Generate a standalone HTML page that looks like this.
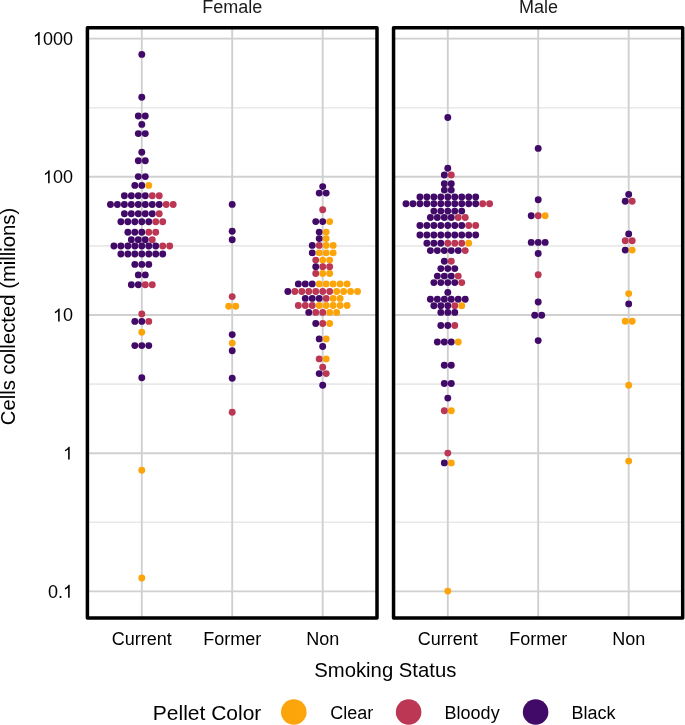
<!DOCTYPE html><html><head><meta charset="utf-8"><style>html,body{margin:0;padding:0;background:#fff;overflow:hidden}svg{display:block;will-change:transform}</style></head><body><svg width="685" height="725" viewBox="0 0 685 725">
<rect width="685" height="725" fill="#fff"/>
<line x1="87.4" x2="377.0" y1="107.70" y2="107.70" stroke="#e9e9e9" stroke-width="1.6"/>
<line x1="87.4" x2="377.0" y1="245.90" y2="245.90" stroke="#e9e9e9" stroke-width="1.6"/>
<line x1="87.4" x2="377.0" y1="384.10" y2="384.10" stroke="#e9e9e9" stroke-width="1.6"/>
<line x1="87.4" x2="377.0" y1="522.30" y2="522.30" stroke="#e9e9e9" stroke-width="1.6"/>
<line x1="87.4" x2="377.0" y1="38.60" y2="38.60" stroke="#d0d0d0" stroke-width="1.9"/>
<line x1="87.4" x2="377.0" y1="176.80" y2="176.80" stroke="#d0d0d0" stroke-width="1.9"/>
<line x1="87.4" x2="377.0" y1="315.00" y2="315.00" stroke="#d0d0d0" stroke-width="1.9"/>
<line x1="87.4" x2="377.0" y1="453.20" y2="453.20" stroke="#d0d0d0" stroke-width="1.9"/>
<line x1="87.4" x2="377.0" y1="591.40" y2="591.40" stroke="#d0d0d0" stroke-width="1.9"/>
<line x1="393.55" x2="682.7" y1="107.70" y2="107.70" stroke="#e9e9e9" stroke-width="1.6"/>
<line x1="393.55" x2="682.7" y1="245.90" y2="245.90" stroke="#e9e9e9" stroke-width="1.6"/>
<line x1="393.55" x2="682.7" y1="384.10" y2="384.10" stroke="#e9e9e9" stroke-width="1.6"/>
<line x1="393.55" x2="682.7" y1="522.30" y2="522.30" stroke="#e9e9e9" stroke-width="1.6"/>
<line x1="393.55" x2="682.7" y1="38.60" y2="38.60" stroke="#d0d0d0" stroke-width="1.9"/>
<line x1="393.55" x2="682.7" y1="176.80" y2="176.80" stroke="#d0d0d0" stroke-width="1.9"/>
<line x1="393.55" x2="682.7" y1="315.00" y2="315.00" stroke="#d0d0d0" stroke-width="1.9"/>
<line x1="393.55" x2="682.7" y1="453.20" y2="453.20" stroke="#d0d0d0" stroke-width="1.9"/>
<line x1="393.55" x2="682.7" y1="591.40" y2="591.40" stroke="#d0d0d0" stroke-width="1.9"/>
<line x1="141.80" x2="141.80" y1="27.85" y2="617.9" stroke="#d0d0d0" stroke-width="1.9"/>
<line x1="232.20" x2="232.20" y1="27.85" y2="617.9" stroke="#d0d0d0" stroke-width="1.9"/>
<line x1="322.70" x2="322.70" y1="27.85" y2="617.9" stroke="#d0d0d0" stroke-width="1.9"/>
<line x1="447.80" x2="447.80" y1="27.85" y2="617.9" stroke="#d0d0d0" stroke-width="1.9"/>
<line x1="538.20" x2="538.20" y1="27.85" y2="617.9" stroke="#d0d0d0" stroke-width="1.9"/>
<line x1="628.70" x2="628.70" y1="27.85" y2="617.9" stroke="#d0d0d0" stroke-width="1.9"/>
<circle cx="141.8" cy="54.4" r="3.45" fill="#420a68"/>
<circle cx="141.8" cy="97.3" r="3.45" fill="#420a68"/>
<circle cx="138.31" cy="116.0" r="3.45" fill="#420a68"/>
<circle cx="145.29" cy="116.0" r="3.45" fill="#420a68"/>
<circle cx="141.8" cy="124.4" r="3.45" fill="#420a68"/>
<circle cx="138.31" cy="133.6" r="3.45" fill="#420a68"/>
<circle cx="145.29" cy="133.6" r="3.45" fill="#420a68"/>
<circle cx="141.8" cy="152.3" r="3.45" fill="#420a68"/>
<circle cx="138.31" cy="160.8" r="3.45" fill="#420a68"/>
<circle cx="145.29" cy="160.8" r="3.45" fill="#420a68"/>
<circle cx="138.31" cy="176.6" r="3.45" fill="#420a68"/>
<circle cx="145.29" cy="176.6" r="3.45" fill="#420a68"/>
<circle cx="134.83" cy="185.4" r="3.45" fill="#420a68"/>
<circle cx="141.8" cy="185.4" r="3.45" fill="#420a68"/>
<circle cx="148.77" cy="185.4" r="3.45" fill="#fca50a"/>
<circle cx="124.38" cy="195.7" r="3.45" fill="#420a68"/>
<circle cx="131.34" cy="195.7" r="3.45" fill="#420a68"/>
<circle cx="138.31" cy="195.7" r="3.45" fill="#420a68"/>
<circle cx="145.29" cy="195.7" r="3.45" fill="#420a68"/>
<circle cx="152.26" cy="195.7" r="3.45" fill="#bc3754"/>
<circle cx="159.23" cy="195.7" r="3.45" fill="#bc3754"/>
<circle cx="110.44" cy="204.5" r="3.45" fill="#420a68"/>
<circle cx="117.41" cy="204.5" r="3.45" fill="#420a68"/>
<circle cx="124.38" cy="204.5" r="3.45" fill="#420a68"/>
<circle cx="131.34" cy="204.5" r="3.45" fill="#420a68"/>
<circle cx="138.31" cy="204.5" r="3.45" fill="#420a68"/>
<circle cx="145.29" cy="204.5" r="3.45" fill="#420a68"/>
<circle cx="152.26" cy="204.5" r="3.45" fill="#420a68"/>
<circle cx="159.23" cy="204.5" r="3.45" fill="#420a68"/>
<circle cx="166.2" cy="204.5" r="3.45" fill="#bc3754"/>
<circle cx="173.17" cy="204.5" r="3.45" fill="#bc3754"/>
<circle cx="124.38" cy="213.8" r="3.45" fill="#420a68"/>
<circle cx="131.34" cy="213.8" r="3.45" fill="#420a68"/>
<circle cx="138.31" cy="213.8" r="3.45" fill="#420a68"/>
<circle cx="145.29" cy="213.8" r="3.45" fill="#420a68"/>
<circle cx="152.26" cy="213.8" r="3.45" fill="#420a68"/>
<circle cx="159.23" cy="213.8" r="3.45" fill="#bc3754"/>
<circle cx="120.89" cy="221.7" r="3.45" fill="#420a68"/>
<circle cx="127.86" cy="221.7" r="3.45" fill="#420a68"/>
<circle cx="134.83" cy="221.7" r="3.45" fill="#420a68"/>
<circle cx="141.8" cy="221.7" r="3.45" fill="#420a68"/>
<circle cx="148.77" cy="221.7" r="3.45" fill="#420a68"/>
<circle cx="155.74" cy="221.7" r="3.45" fill="#bc3754"/>
<circle cx="162.71" cy="221.7" r="3.45" fill="#bc3754"/>
<circle cx="127.86" cy="232.2" r="3.45" fill="#420a68"/>
<circle cx="134.83" cy="232.2" r="3.45" fill="#420a68"/>
<circle cx="141.8" cy="232.2" r="3.45" fill="#420a68"/>
<circle cx="148.77" cy="232.2" r="3.45" fill="#bc3754"/>
<circle cx="155.74" cy="232.2" r="3.45" fill="#bc3754"/>
<circle cx="131.34" cy="239.7" r="3.45" fill="#420a68"/>
<circle cx="138.31" cy="239.7" r="3.45" fill="#420a68"/>
<circle cx="145.29" cy="239.7" r="3.45" fill="#420a68"/>
<circle cx="152.26" cy="239.7" r="3.45" fill="#bc3754"/>
<circle cx="113.92" cy="246.0" r="3.45" fill="#420a68"/>
<circle cx="120.89" cy="246.0" r="3.45" fill="#420a68"/>
<circle cx="127.86" cy="246.0" r="3.45" fill="#420a68"/>
<circle cx="134.83" cy="246.0" r="3.45" fill="#420a68"/>
<circle cx="141.8" cy="246.0" r="3.45" fill="#420a68"/>
<circle cx="148.77" cy="246.0" r="3.45" fill="#420a68"/>
<circle cx="155.74" cy="246.0" r="3.45" fill="#420a68"/>
<circle cx="162.71" cy="246.0" r="3.45" fill="#bc3754"/>
<circle cx="169.68" cy="246.0" r="3.45" fill="#bc3754"/>
<circle cx="120.89" cy="254.0" r="3.45" fill="#420a68"/>
<circle cx="127.86" cy="254.0" r="3.45" fill="#420a68"/>
<circle cx="134.83" cy="254.0" r="3.45" fill="#420a68"/>
<circle cx="141.8" cy="254.0" r="3.45" fill="#420a68"/>
<circle cx="148.77" cy="254.0" r="3.45" fill="#420a68"/>
<circle cx="155.74" cy="254.0" r="3.45" fill="#420a68"/>
<circle cx="162.71" cy="254.0" r="3.45" fill="#420a68"/>
<circle cx="134.83" cy="264.4" r="3.45" fill="#420a68"/>
<circle cx="141.8" cy="264.4" r="3.45" fill="#420a68"/>
<circle cx="148.77" cy="264.4" r="3.45" fill="#420a68"/>
<circle cx="138.31" cy="274.9" r="3.45" fill="#420a68"/>
<circle cx="145.29" cy="274.9" r="3.45" fill="#420a68"/>
<circle cx="131.34" cy="284.8" r="3.45" fill="#420a68"/>
<circle cx="138.31" cy="284.8" r="3.45" fill="#420a68"/>
<circle cx="145.29" cy="284.8" r="3.45" fill="#bc3754"/>
<circle cx="152.26" cy="284.8" r="3.45" fill="#bc3754"/>
<circle cx="141.8" cy="313.9" r="3.45" fill="#bc3754"/>
<circle cx="134.83" cy="321.4" r="3.45" fill="#420a68"/>
<circle cx="141.8" cy="321.4" r="3.45" fill="#420a68"/>
<circle cx="148.77" cy="321.4" r="3.45" fill="#bc3754"/>
<circle cx="141.8" cy="332.2" r="3.45" fill="#fca50a"/>
<circle cx="134.83" cy="345.6" r="3.45" fill="#420a68"/>
<circle cx="141.8" cy="345.6" r="3.45" fill="#420a68"/>
<circle cx="148.77" cy="345.6" r="3.45" fill="#420a68"/>
<circle cx="141.8" cy="377.7" r="3.45" fill="#420a68"/>
<circle cx="141.8" cy="470.2" r="3.45" fill="#fca50a"/>
<circle cx="141.8" cy="578.0" r="3.45" fill="#fca50a"/>
<circle cx="232.2" cy="204.4" r="3.45" fill="#420a68"/>
<circle cx="232.2" cy="231.3" r="3.45" fill="#420a68"/>
<circle cx="232.2" cy="239.7" r="3.45" fill="#420a68"/>
<circle cx="232.2" cy="296.6" r="3.45" fill="#bc3754"/>
<circle cx="228.71" cy="306.3" r="3.45" fill="#fca50a"/>
<circle cx="235.69" cy="306.3" r="3.45" fill="#fca50a"/>
<circle cx="232.2" cy="334.6" r="3.45" fill="#420a68"/>
<circle cx="232.2" cy="343.1" r="3.45" fill="#fca50a"/>
<circle cx="232.2" cy="350.8" r="3.45" fill="#420a68"/>
<circle cx="232.2" cy="378.2" r="3.45" fill="#420a68"/>
<circle cx="232.2" cy="412.3" r="3.45" fill="#bc3754"/>
<circle cx="322.7" cy="186.6" r="3.45" fill="#420a68"/>
<circle cx="319.21" cy="193.1" r="3.45" fill="#420a68"/>
<circle cx="326.19" cy="193.1" r="3.45" fill="#420a68"/>
<circle cx="322.7" cy="209.7" r="3.45" fill="#bc3754"/>
<circle cx="315.73" cy="221.6" r="3.45" fill="#420a68"/>
<circle cx="322.7" cy="221.6" r="3.45" fill="#420a68"/>
<circle cx="329.67" cy="221.6" r="3.45" fill="#fca50a"/>
<circle cx="319.21" cy="232.1" r="3.45" fill="#420a68"/>
<circle cx="326.19" cy="232.1" r="3.45" fill="#fca50a"/>
<circle cx="319.21" cy="238.6" r="3.45" fill="#420a68"/>
<circle cx="326.19" cy="238.6" r="3.45" fill="#fca50a"/>
<circle cx="312.25" cy="245.4" r="3.45" fill="#420a68"/>
<circle cx="319.21" cy="245.4" r="3.45" fill="#bc3754"/>
<circle cx="326.19" cy="245.4" r="3.45" fill="#fca50a"/>
<circle cx="333.15" cy="245.4" r="3.45" fill="#fca50a"/>
<circle cx="312.25" cy="252.9" r="3.45" fill="#420a68"/>
<circle cx="319.21" cy="252.9" r="3.45" fill="#fca50a"/>
<circle cx="326.19" cy="252.9" r="3.45" fill="#fca50a"/>
<circle cx="333.15" cy="252.9" r="3.45" fill="#fca50a"/>
<circle cx="315.73" cy="260.1" r="3.45" fill="#bc3754"/>
<circle cx="322.7" cy="260.1" r="3.45" fill="#fca50a"/>
<circle cx="329.67" cy="260.1" r="3.45" fill="#fca50a"/>
<circle cx="315.73" cy="266.8" r="3.45" fill="#420a68"/>
<circle cx="322.7" cy="266.8" r="3.45" fill="#bc3754"/>
<circle cx="329.67" cy="266.8" r="3.45" fill="#bc3754"/>
<circle cx="315.73" cy="273.5" r="3.45" fill="#bc3754"/>
<circle cx="322.7" cy="273.5" r="3.45" fill="#fca50a"/>
<circle cx="329.67" cy="273.5" r="3.45" fill="#fca50a"/>
<circle cx="298.31" cy="283.9" r="3.45" fill="#420a68"/>
<circle cx="305.27" cy="283.9" r="3.45" fill="#420a68"/>
<circle cx="312.25" cy="283.9" r="3.45" fill="#420a68"/>
<circle cx="319.21" cy="283.9" r="3.45" fill="#fca50a"/>
<circle cx="326.19" cy="283.9" r="3.45" fill="#fca50a"/>
<circle cx="333.15" cy="283.9" r="3.45" fill="#fca50a"/>
<circle cx="340.12" cy="283.9" r="3.45" fill="#fca50a"/>
<circle cx="347.09" cy="283.9" r="3.45" fill="#fca50a"/>
<circle cx="287.85" cy="291.5" r="3.45" fill="#420a68"/>
<circle cx="294.82" cy="291.5" r="3.45" fill="#bc3754"/>
<circle cx="301.79" cy="291.5" r="3.45" fill="#bc3754"/>
<circle cx="308.76" cy="291.5" r="3.45" fill="#bc3754"/>
<circle cx="315.73" cy="291.5" r="3.45" fill="#bc3754"/>
<circle cx="322.7" cy="291.5" r="3.45" fill="#bc3754"/>
<circle cx="329.67" cy="291.5" r="3.45" fill="#bc3754"/>
<circle cx="336.64" cy="291.5" r="3.45" fill="#fca50a"/>
<circle cx="343.61" cy="291.5" r="3.45" fill="#fca50a"/>
<circle cx="350.58" cy="291.5" r="3.45" fill="#fca50a"/>
<circle cx="357.55" cy="291.5" r="3.45" fill="#fca50a"/>
<circle cx="305.27" cy="298.4" r="3.45" fill="#420a68"/>
<circle cx="312.25" cy="298.4" r="3.45" fill="#420a68"/>
<circle cx="319.21" cy="298.4" r="3.45" fill="#420a68"/>
<circle cx="326.19" cy="298.4" r="3.45" fill="#bc3754"/>
<circle cx="333.15" cy="298.4" r="3.45" fill="#fca50a"/>
<circle cx="340.12" cy="298.4" r="3.45" fill="#fca50a"/>
<circle cx="298.31" cy="305.5" r="3.45" fill="#bc3754"/>
<circle cx="305.27" cy="305.5" r="3.45" fill="#bc3754"/>
<circle cx="312.25" cy="305.5" r="3.45" fill="#bc3754"/>
<circle cx="319.21" cy="305.5" r="3.45" fill="#fca50a"/>
<circle cx="326.19" cy="305.5" r="3.45" fill="#fca50a"/>
<circle cx="333.15" cy="305.5" r="3.45" fill="#fca50a"/>
<circle cx="340.12" cy="305.5" r="3.45" fill="#fca50a"/>
<circle cx="347.09" cy="305.5" r="3.45" fill="#fca50a"/>
<circle cx="308.76" cy="312.4" r="3.45" fill="#420a68"/>
<circle cx="315.73" cy="312.4" r="3.45" fill="#bc3754"/>
<circle cx="322.7" cy="312.4" r="3.45" fill="#bc3754"/>
<circle cx="329.67" cy="312.4" r="3.45" fill="#fca50a"/>
<circle cx="336.64" cy="312.4" r="3.45" fill="#fca50a"/>
<circle cx="315.73" cy="323.5" r="3.45" fill="#420a68"/>
<circle cx="322.7" cy="323.5" r="3.45" fill="#bc3754"/>
<circle cx="329.67" cy="323.5" r="3.45" fill="#fca50a"/>
<circle cx="319.21" cy="338.9" r="3.45" fill="#420a68"/>
<circle cx="326.19" cy="338.9" r="3.45" fill="#fca50a"/>
<circle cx="322.7" cy="346.5" r="3.45" fill="#420a68"/>
<circle cx="319.21" cy="358.9" r="3.45" fill="#bc3754"/>
<circle cx="326.19" cy="358.9" r="3.45" fill="#fca50a"/>
<circle cx="322.7" cy="367.2" r="3.45" fill="#bc3754"/>
<circle cx="319.21" cy="373.6" r="3.45" fill="#420a68"/>
<circle cx="326.19" cy="373.6" r="3.45" fill="#bc3754"/>
<circle cx="322.7" cy="385.3" r="3.45" fill="#420a68"/>
<circle cx="447.8" cy="117.5" r="3.45" fill="#420a68"/>
<circle cx="447.8" cy="168.3" r="3.45" fill="#420a68"/>
<circle cx="444.31" cy="175.0" r="3.45" fill="#420a68"/>
<circle cx="451.29" cy="175.0" r="3.45" fill="#bc3754"/>
<circle cx="444.31" cy="183.8" r="3.45" fill="#420a68"/>
<circle cx="451.29" cy="183.8" r="3.45" fill="#420a68"/>
<circle cx="444.31" cy="190.1" r="3.45" fill="#420a68"/>
<circle cx="451.29" cy="190.1" r="3.45" fill="#420a68"/>
<circle cx="419.92" cy="197.0" r="3.45" fill="#420a68"/>
<circle cx="426.89" cy="197.0" r="3.45" fill="#420a68"/>
<circle cx="433.86" cy="197.0" r="3.45" fill="#420a68"/>
<circle cx="440.83" cy="197.0" r="3.45" fill="#420a68"/>
<circle cx="447.8" cy="197.0" r="3.45" fill="#420a68"/>
<circle cx="454.77" cy="197.0" r="3.45" fill="#420a68"/>
<circle cx="461.74" cy="197.0" r="3.45" fill="#420a68"/>
<circle cx="468.71" cy="197.0" r="3.45" fill="#420a68"/>
<circle cx="475.68" cy="197.0" r="3.45" fill="#420a68"/>
<circle cx="405.98" cy="203.7" r="3.45" fill="#420a68"/>
<circle cx="412.95" cy="203.7" r="3.45" fill="#420a68"/>
<circle cx="419.92" cy="203.7" r="3.45" fill="#420a68"/>
<circle cx="426.89" cy="203.7" r="3.45" fill="#420a68"/>
<circle cx="433.86" cy="203.7" r="3.45" fill="#420a68"/>
<circle cx="440.83" cy="203.7" r="3.45" fill="#420a68"/>
<circle cx="447.8" cy="203.7" r="3.45" fill="#420a68"/>
<circle cx="454.77" cy="203.7" r="3.45" fill="#420a68"/>
<circle cx="461.74" cy="203.7" r="3.45" fill="#420a68"/>
<circle cx="468.71" cy="203.7" r="3.45" fill="#420a68"/>
<circle cx="475.68" cy="203.7" r="3.45" fill="#420a68"/>
<circle cx="482.65" cy="203.7" r="3.45" fill="#bc3754"/>
<circle cx="489.62" cy="203.7" r="3.45" fill="#bc3754"/>
<circle cx="433.86" cy="211.1" r="3.45" fill="#420a68"/>
<circle cx="440.83" cy="211.1" r="3.45" fill="#420a68"/>
<circle cx="447.8" cy="211.1" r="3.45" fill="#420a68"/>
<circle cx="454.77" cy="211.1" r="3.45" fill="#420a68"/>
<circle cx="461.74" cy="211.1" r="3.45" fill="#420a68"/>
<circle cx="430.38" cy="217.5" r="3.45" fill="#420a68"/>
<circle cx="437.35" cy="217.5" r="3.45" fill="#420a68"/>
<circle cx="444.31" cy="217.5" r="3.45" fill="#420a68"/>
<circle cx="451.29" cy="217.5" r="3.45" fill="#420a68"/>
<circle cx="458.25" cy="217.5" r="3.45" fill="#bc3754"/>
<circle cx="465.23" cy="217.5" r="3.45" fill="#bc3754"/>
<circle cx="419.92" cy="225.5" r="3.45" fill="#420a68"/>
<circle cx="426.89" cy="225.5" r="3.45" fill="#420a68"/>
<circle cx="433.86" cy="225.5" r="3.45" fill="#420a68"/>
<circle cx="440.83" cy="225.5" r="3.45" fill="#420a68"/>
<circle cx="447.8" cy="225.5" r="3.45" fill="#420a68"/>
<circle cx="454.77" cy="225.5" r="3.45" fill="#420a68"/>
<circle cx="461.74" cy="225.5" r="3.45" fill="#420a68"/>
<circle cx="468.71" cy="225.5" r="3.45" fill="#bc3754"/>
<circle cx="475.68" cy="225.5" r="3.45" fill="#bc3754"/>
<circle cx="419.92" cy="235.0" r="3.45" fill="#420a68"/>
<circle cx="426.89" cy="235.0" r="3.45" fill="#420a68"/>
<circle cx="433.86" cy="235.0" r="3.45" fill="#420a68"/>
<circle cx="440.83" cy="235.0" r="3.45" fill="#420a68"/>
<circle cx="447.8" cy="235.0" r="3.45" fill="#420a68"/>
<circle cx="454.77" cy="235.0" r="3.45" fill="#420a68"/>
<circle cx="461.74" cy="235.0" r="3.45" fill="#420a68"/>
<circle cx="468.71" cy="235.0" r="3.45" fill="#420a68"/>
<circle cx="475.68" cy="235.0" r="3.45" fill="#420a68"/>
<circle cx="426.89" cy="243.2" r="3.45" fill="#420a68"/>
<circle cx="433.86" cy="243.2" r="3.45" fill="#420a68"/>
<circle cx="440.83" cy="243.2" r="3.45" fill="#420a68"/>
<circle cx="447.8" cy="243.2" r="3.45" fill="#bc3754"/>
<circle cx="454.77" cy="243.2" r="3.45" fill="#bc3754"/>
<circle cx="461.74" cy="243.2" r="3.45" fill="#bc3754"/>
<circle cx="468.71" cy="243.2" r="3.45" fill="#fca50a"/>
<circle cx="430.38" cy="250.6" r="3.45" fill="#420a68"/>
<circle cx="437.35" cy="250.6" r="3.45" fill="#420a68"/>
<circle cx="444.31" cy="250.6" r="3.45" fill="#420a68"/>
<circle cx="451.29" cy="250.6" r="3.45" fill="#420a68"/>
<circle cx="458.25" cy="250.6" r="3.45" fill="#420a68"/>
<circle cx="465.23" cy="250.6" r="3.45" fill="#bc3754"/>
<circle cx="444.31" cy="261.2" r="3.45" fill="#420a68"/>
<circle cx="451.29" cy="261.2" r="3.45" fill="#bc3754"/>
<circle cx="440.83" cy="268.6" r="3.45" fill="#420a68"/>
<circle cx="447.8" cy="268.6" r="3.45" fill="#420a68"/>
<circle cx="454.77" cy="268.6" r="3.45" fill="#420a68"/>
<circle cx="437.35" cy="276.1" r="3.45" fill="#420a68"/>
<circle cx="444.31" cy="276.1" r="3.45" fill="#420a68"/>
<circle cx="451.29" cy="276.1" r="3.45" fill="#420a68"/>
<circle cx="458.25" cy="276.1" r="3.45" fill="#bc3754"/>
<circle cx="433.86" cy="282.6" r="3.45" fill="#420a68"/>
<circle cx="440.83" cy="282.6" r="3.45" fill="#420a68"/>
<circle cx="447.8" cy="282.6" r="3.45" fill="#420a68"/>
<circle cx="454.77" cy="282.6" r="3.45" fill="#420a68"/>
<circle cx="461.74" cy="282.6" r="3.45" fill="#bc3754"/>
<circle cx="447.8" cy="292.4" r="3.45" fill="#420a68"/>
<circle cx="430.38" cy="299.2" r="3.45" fill="#420a68"/>
<circle cx="437.35" cy="299.2" r="3.45" fill="#420a68"/>
<circle cx="444.31" cy="299.2" r="3.45" fill="#420a68"/>
<circle cx="451.29" cy="299.2" r="3.45" fill="#420a68"/>
<circle cx="458.25" cy="299.2" r="3.45" fill="#420a68"/>
<circle cx="465.23" cy="299.2" r="3.45" fill="#420a68"/>
<circle cx="433.86" cy="305.7" r="3.45" fill="#420a68"/>
<circle cx="440.83" cy="305.7" r="3.45" fill="#420a68"/>
<circle cx="447.8" cy="305.7" r="3.45" fill="#420a68"/>
<circle cx="454.77" cy="305.7" r="3.45" fill="#bc3754"/>
<circle cx="461.74" cy="305.7" r="3.45" fill="#fca50a"/>
<circle cx="440.83" cy="312.4" r="3.45" fill="#420a68"/>
<circle cx="447.8" cy="312.4" r="3.45" fill="#420a68"/>
<circle cx="454.77" cy="312.4" r="3.45" fill="#420a68"/>
<circle cx="440.83" cy="325.5" r="3.45" fill="#420a68"/>
<circle cx="447.8" cy="325.5" r="3.45" fill="#420a68"/>
<circle cx="454.77" cy="325.5" r="3.45" fill="#bc3754"/>
<circle cx="437.35" cy="342.0" r="3.45" fill="#420a68"/>
<circle cx="444.31" cy="342.0" r="3.45" fill="#420a68"/>
<circle cx="451.29" cy="342.0" r="3.45" fill="#420a68"/>
<circle cx="458.25" cy="342.0" r="3.45" fill="#fca50a"/>
<circle cx="444.31" cy="365.3" r="3.45" fill="#420a68"/>
<circle cx="451.29" cy="365.3" r="3.45" fill="#420a68"/>
<circle cx="444.31" cy="383.5" r="3.45" fill="#420a68"/>
<circle cx="451.29" cy="383.5" r="3.45" fill="#420a68"/>
<circle cx="447.8" cy="398.1" r="3.45" fill="#420a68"/>
<circle cx="444.31" cy="410.8" r="3.45" fill="#bc3754"/>
<circle cx="451.29" cy="410.8" r="3.45" fill="#fca50a"/>
<circle cx="447.8" cy="453.1" r="3.45" fill="#bc3754"/>
<circle cx="444.31" cy="462.9" r="3.45" fill="#420a68"/>
<circle cx="451.29" cy="462.9" r="3.45" fill="#fca50a"/>
<circle cx="447.8" cy="591.1" r="3.45" fill="#fca50a"/>
<circle cx="538.2" cy="148.4" r="3.45" fill="#420a68"/>
<circle cx="538.2" cy="199.8" r="3.45" fill="#420a68"/>
<circle cx="531.23" cy="215.8" r="3.45" fill="#420a68"/>
<circle cx="538.2" cy="215.8" r="3.45" fill="#bc3754"/>
<circle cx="545.17" cy="215.8" r="3.45" fill="#fca50a"/>
<circle cx="531.23" cy="242.4" r="3.45" fill="#420a68"/>
<circle cx="538.2" cy="242.4" r="3.45" fill="#420a68"/>
<circle cx="545.17" cy="242.4" r="3.45" fill="#420a68"/>
<circle cx="538.2" cy="253.5" r="3.45" fill="#420a68"/>
<circle cx="538.2" cy="274.8" r="3.45" fill="#bc3754"/>
<circle cx="538.2" cy="302.0" r="3.45" fill="#420a68"/>
<circle cx="534.72" cy="315.3" r="3.45" fill="#420a68"/>
<circle cx="541.69" cy="315.3" r="3.45" fill="#420a68"/>
<circle cx="538.2" cy="340.6" r="3.45" fill="#420a68"/>
<circle cx="628.7" cy="194.4" r="3.45" fill="#420a68"/>
<circle cx="625.22" cy="201.3" r="3.45" fill="#420a68"/>
<circle cx="632.19" cy="201.3" r="3.45" fill="#bc3754"/>
<circle cx="628.7" cy="233.9" r="3.45" fill="#420a68"/>
<circle cx="625.22" cy="240.8" r="3.45" fill="#bc3754"/>
<circle cx="632.19" cy="240.8" r="3.45" fill="#bc3754"/>
<circle cx="625.22" cy="250.1" r="3.45" fill="#420a68"/>
<circle cx="632.19" cy="250.1" r="3.45" fill="#fca50a"/>
<circle cx="628.7" cy="293.6" r="3.45" fill="#fca50a"/>
<circle cx="628.7" cy="303.9" r="3.45" fill="#420a68"/>
<circle cx="625.22" cy="321.2" r="3.45" fill="#fca50a"/>
<circle cx="632.19" cy="321.2" r="3.45" fill="#fca50a"/>
<circle cx="628.7" cy="385.3" r="3.45" fill="#fca50a"/>
<circle cx="628.7" cy="461.1" r="3.45" fill="#fca50a"/>
<rect x="87.4" y="27.85" width="289.60" height="590.05" fill="none" stroke="#000" stroke-width="3.5" stroke-linejoin="round"/>
<rect x="393.55" y="27.85" width="289.15" height="590.05" fill="none" stroke="#000" stroke-width="3.5" stroke-linejoin="round"/>
<text x="232.3" y="12.8" font-family="Liberation Sans, sans-serif" font-size="18" text-anchor="middle" fill="#1a1a1a">Female</text>
<text x="538.5" y="12.8" font-family="Liberation Sans, sans-serif" font-size="18" text-anchor="middle" fill="#1a1a1a">Male</text>
<text x="73.0" y="45.00" font-family="Liberation Sans, sans-serif" font-size="18.0" text-anchor="end" fill="#000">&#8199;000</text>
<path d="M763,0L583,0L583,1147Q518,1085 412.5,1023Q307,961 223,930L223,1104Q374,1175 487,1276Q600,1377 647,1472L763,1472Z" transform="translate(32.957,45.00) scale(0.008789,-0.008789)" fill="#000"/>
<text x="73.0" y="183.20" font-family="Liberation Sans, sans-serif" font-size="18.0" text-anchor="end" fill="#000">&#8199;00</text>
<path d="M763,0L583,0L583,1147Q518,1085 412.5,1023Q307,961 223,930L223,1104Q374,1175 487,1276Q600,1377 647,1472L763,1472Z" transform="translate(42.968,183.20) scale(0.008789,-0.008789)" fill="#000"/>
<text x="73.0" y="321.40" font-family="Liberation Sans, sans-serif" font-size="18.0" text-anchor="end" fill="#000">&#8199;0</text>
<path d="M763,0L583,0L583,1147Q518,1085 412.5,1023Q307,961 223,930L223,1104Q374,1175 487,1276Q600,1377 647,1472L763,1472Z" transform="translate(52.979,321.40) scale(0.008789,-0.008789)" fill="#000"/>
<text x="73.0" y="459.60" font-family="Liberation Sans, sans-serif" font-size="18.0" text-anchor="end" fill="#000">&#8199;</text>
<path d="M763,0L583,0L583,1147Q518,1085 412.5,1023Q307,961 223,930L223,1104Q374,1175 487,1276Q600,1377 647,1472L763,1472Z" transform="translate(62.989,459.60) scale(0.008789,-0.008789)" fill="#000"/>
<text x="73.0" y="597.80" font-family="Liberation Sans, sans-serif" font-size="18.0" text-anchor="end" fill="#000">0.&#8199;</text>
<path d="M763,0L583,0L583,1147Q518,1085 412.5,1023Q307,961 223,930L223,1104Q374,1175 487,1276Q600,1377 647,1472L763,1472Z" transform="translate(62.989,597.80) scale(0.008789,-0.008789)" fill="#000"/>
<text x="141.80" y="645.2" font-family="Liberation Sans, sans-serif" font-size="18" text-anchor="middle" fill="#000">Current</text>
<text x="232.20" y="645.2" font-family="Liberation Sans, sans-serif" font-size="18" text-anchor="middle" fill="#000">Former</text>
<text x="322.70" y="645.2" font-family="Liberation Sans, sans-serif" font-size="18" text-anchor="middle" fill="#000">Non</text>
<text x="447.80" y="645.2" font-family="Liberation Sans, sans-serif" font-size="18" text-anchor="middle" fill="#000">Current</text>
<text x="538.20" y="645.2" font-family="Liberation Sans, sans-serif" font-size="18" text-anchor="middle" fill="#000">Former</text>
<text x="628.70" y="645.2" font-family="Liberation Sans, sans-serif" font-size="18" text-anchor="middle" fill="#000">Non</text>
<text x="385.3" y="677.0" font-family="Liberation Sans, sans-serif" font-size="20.3" text-anchor="middle" fill="#000">Smoking Status</text>
<text transform="translate(15.3,316.5) rotate(-90)" font-family="Liberation Sans, sans-serif" font-size="20.3" text-anchor="middle" fill="#000">Cells collected (millions)</text>
<text x="152.8" y="719.6" font-family="Liberation Sans, sans-serif" font-size="21" fill="#000">Pellet Color</text>
<circle cx="293.8" cy="712" r="12.8" fill="#fca50a"/>
<text x="330.3" y="719" font-family="Liberation Sans, sans-serif" font-size="18" fill="#000">Clear</text>
<circle cx="408.6" cy="712" r="12.8" fill="#bc3754"/>
<text x="444.6" y="719" font-family="Liberation Sans, sans-serif" font-size="18" fill="#000">Bloody</text>
<circle cx="535.6" cy="712" r="12.8" fill="#420a68"/>
<text x="571.4" y="719" font-family="Liberation Sans, sans-serif" font-size="18" fill="#000">Black</text>
</svg></body></html>
